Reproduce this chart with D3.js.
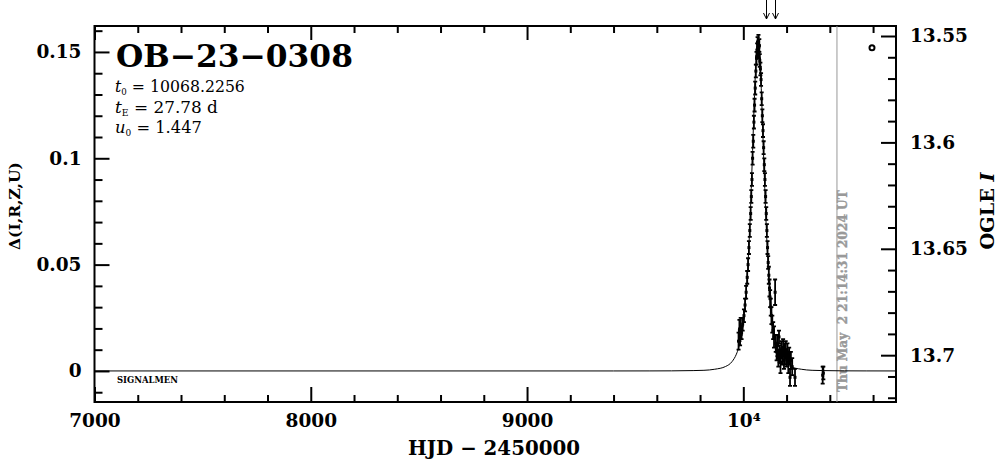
<!DOCTYPE html>
<html><head><meta charset="utf-8">
<script src="https://cdn.jsdelivr.net/npm/d3@7"></script>
<style>body{margin:0;background:#fff}svg{display:block}</style>
</head><body>
<svg id="c" width="999" height="459"></svg>
<script>
// ---------- data ----------
const eventName = "OB−23−0308";
const params = [
  {sym: "t", sub: "0", val: " = 10068.2256"},
  {sym: "t", sub: "E", val: " = 27.78 d"},
  {sym: "u", sub: "0", val: " = 1.447"}
];
const xTicks = [7000, 8000, 9000, 10000];
const xTickLabels = ["7000", "8000", "9000", "10⁴"];
const yTicks = [0, 0.05, 0.1, 0.15];
const yTickLabels = ["0", "0.05", "0.1", "0.15"];
const magTicks = [13.55, 13.6, 13.65, 13.7];
const magTickLabels = ["13.55", "13.6", "13.65", "13.7"];
const xLabel = "HJD − 2450000";
const yLabel = "Δ(I,R,Z,U)";
const rLabelMain = "OGLE ";
const rLabelItalic = "I";
const stamp = "Thu May  2 21:14:31 2024 UT";
const stampT = 10433;
const arrowT = [10105, 10147];
const markT = [10595];
const markD = [0.152];

// model curve
const modelT = [7000, 9400, 9568, 9668, 9768, 9818, 9868, 9918, 9948, 9968, 9978, 9988, 9998, 10008, 10018, 10023, 10028, 10033, 10038, 10043, 10048, 10053, 10058, 10063, 10068,
  10073, 10078, 10083, 10088, 10093, 10098, 10103, 10108, 10113, 10118, 10128, 10138, 10148, 10158, 10168, 10188, 10218, 10268, 10318, 10368, 10468, 10568, 10706];
const modelD = [0, 0, 0.00002, 0.00005, 0.00017, 0.0003, 0.0008, 0.0021, 0.0044, 0.0079, 0.0108, 0.0153, 0.0213, 0.0305, 0.0441, 0.0529, 0.0634, 0.0754, 0.0893, 0.1037, 0.1188, 0.1329, 0.1447, 0.1527, 0.1554,
  0.1527, 0.1447, 0.1329, 0.1188, 0.1037, 0.0893, 0.0754, 0.0634, 0.0529, 0.0441, 0.0305, 0.0213, 0.0153, 0.0108, 0.0079, 0.0044, 0.0021, 0.0008, 0.0003, 0.00017, 0.00005, 0.00002, 0];

// observations
const obsT = [9978, 9982, 9985, 9988, 9992, 9997, 10003, 10008, 10013, 10018, 10022, 10026, 10030, 10034, 10037, 10040, 10043, 10046, 10049, 10052, 10055, 10058, 10061, 10064, 10066, 10068, 10070,
  10072, 10074, 10076, 10079, 10082, 10085, 10088, 10091, 10094, 10097, 10100, 10103, 10106, 10109, 10112, 10115, 10118, 10121, 10124, 10127, 10130, 10134, 10138, 10142, 10147, 10150, 10154, 10158,
  10162, 10165, 10168, 10172, 10176, 10180, 10184, 10188, 10192, 10196, 10200, 10204, 10208, 10212, 10216, 10220, 10226, 10239, 10367, 10370];
const obsD = [0.014, 0.019, 0.016, 0.021, 0.018, 0.022, 0.026, 0.031, 0.037, 0.044, 0.050, 0.058, 0.066, 0.074, 0.082, 0.090, 0.100, 0.108, 0.117, 0.125, 0.133, 0.141, 0.147, 0.151, 0.154, 0.152, 0.155,
  0.150, 0.153, 0.146, 0.142, 0.137, 0.128, 0.120, 0.113, 0.105, 0.097, 0.090, 0.082, 0.074, 0.066, 0.058, 0.051, 0.045, 0.039, 0.034, 0.030, 0.026, 0.022, 0.019, 0.016, 0.037, 0.013, 0.009, 0.012,
  0.006, 0.016, 0.008, 0.004, 0.010, 0.007, 0.011, 0.005, 0.008, 0.010, 0.006, 0.009, 0.004, 0.007, -0.003, 0.005, 0.002, -0.003, -0.002, -0.001];
const obsE = [0.004, 0.005, 0.004, 0.004, 0.003, 0.003, 0.003, 0.003, 0.003, 0.003, 0.003, 0.003, 0.003, 0.003, 0.003, 0.003, 0.003, 0.003, 0.003, 0.003, 0.003, 0.003, 0.003, 0.003, 0.003, 0.003, 0.003,
  0.003, 0.003, 0.003, 0.003, 0.003, 0.003, 0.003, 0.003, 0.003, 0.003, 0.003, 0.003, 0.003, 0.003, 0.003, 0.003, 0.004, 0.004, 0.004, 0.004, 0.004, 0.004, 0.004, 0.005, 0.006, 0.004, 0.004, 0.005,
  0.004, 0.003, 0.004, 0.005, 0.004, 0.004, 0.004, 0.004, 0.005, 0.004, 0.004, 0.004, 0.005, 0.004, 0.004, 0.004, 0.004, 0.004, 0.004, 0.003];

// ---------- layout ----------
const svg = d3.select("#c");
const L = 94.5, R = 896, T = 26, B = 402;
const FONT = "'DejaVu Serif', serif";
const x = d3.scaleLinear().domain([7000, 10706]).range([L, R]);
const y = d3.scaleLinear().domain([-0.0146, 0.1622]).range([B, T]);
const yM = d3.scaleLinear().domain([13.722, 13.5453]).range([B, T]);

svg.append("rect").attr("width", 999).attr("height", 459).attr("fill", "#fff");

function fit(t, w) {
  const cur = t.node().getComputedTextLength();
  const fs = parseFloat(t.style("font-size"));
  t.style("font-size", (fs * w / cur) + "px");
}
function styleAxis(g, fs) {
  g.select(".domain").remove();
  g.selectAll("line").attr("stroke", "#000").attr("stroke-width", 2);
  g.selectAll("text").attr("font-family", FONT).attr("font-weight", "bold").attr("font-size", fs).attr("fill", "#000");
}

// minor ticks
const minorX = d3.range(7000, 10707, 200).filter(v => v % 1000 !== 0);
const minorY = d3.range(-0.01, 0.1621, 0.01).filter(v => Math.abs(v / 0.05 - Math.round(v / 0.05)) > 1e-6);
const minorM = d3.range(13.56, 13.7221, 0.01).filter(v => Math.abs(v / 0.05 - Math.round(v / 0.05)) > 1e-6);

// bottom
const gB = svg.append("g").attr("transform", `translate(0,${B})`)
  .call(d3.axisBottom(x).tickValues(xTicks).tickSizeInner(-15).tickSizeOuter(0).tickPadding(12)
    .tickFormat((d, i) => xTickLabels[i]));
styleAxis(gB, "18.5px");
const gBm = svg.append("g").attr("transform", `translate(0,${B})`)
  .call(d3.axisBottom(x).tickValues(minorX).tickSize(-7).tickFormat(""));
styleAxis(gBm, "1px");
// top
const gT = svg.append("g").attr("transform", `translate(0,${T})`)
  .call(d3.axisTop(x).tickValues(xTicks).tickSize(-14).tickFormat(""));
styleAxis(gT, "1px");
const gTm = svg.append("g").attr("transform", `translate(0,${T})`)
  .call(d3.axisTop(x).tickValues(minorX).tickSize(-7).tickFormat(""));
styleAxis(gTm, "1px");
// left
const gLft = svg.append("g").attr("transform", `translate(${L},0)`)
  .call(d3.axisLeft(y).tickValues(yTicks).tickSizeInner(-15).tickSizeOuter(0).tickPadding(13)
    .tickFormat((d, i) => yTickLabels[i]));
styleAxis(gLft, "18.5px");
const gLm = svg.append("g").attr("transform", `translate(${L},0)`)
  .call(d3.axisLeft(y).tickValues(minorY).tickSize(-8).tickFormat(""));
styleAxis(gLm, "1px");
// right
const gR = svg.append("g").attr("transform", `translate(${R},0)`)
  .call(d3.axisRight(yM).tickValues(magTicks).tickSizeInner(-15).tickSizeOuter(0).tickPadding(14)
    .tickFormat((d, i) => magTickLabels[i]));
styleAxis(gR, "18.5px");
const gRm = svg.append("g").attr("transform", `translate(${R},0)`)
  .call(d3.axisRight(yM).tickValues(minorM).tickSize(-8).tickFormat(""));
styleAxis(gRm, "1px");

// frame
svg.append("rect").attr("x", L).attr("y", T).attr("width", R - L).attr("height", B - T)
  .attr("fill", "none").attr("stroke", "#000").attr("stroke-width", 2);

// time stamp line + text
svg.append("line").attr("x1", x(stampT)).attr("x2", x(stampT)).attr("y1", T).attr("y2", B)
  .attr("stroke", "#999").attr("stroke-width", 1);
const st = svg.append("text").attr("transform", `translate(${x(stampT) + 10},392) rotate(-90)`)
  .attr("font-family", FONT).attr("font-weight", "bold").attr("font-size", "11px").attr("fill", "#999")
  .attr("stroke", "#999").attr("stroke-width", 0.4)
  .style("white-space", "pre").text(stamp);
fit(st, 202);

// model curve
const model = modelT.map((t, i) => [t, modelD[i]]);
svg.append("path").datum(model)
  .attr("d", d3.line().x(d => x(d[0])).y(d => y(d[1])).curve(d3.curveMonotoneX))
  .attr("fill", "none").attr("stroke", "#000").attr("stroke-width", 1);

// observations with error bars
const obs = obsT.map((t, i) => ({t, d: obsD[i], e: obsE[i]}));
const g = svg.append("g").attr("stroke", "#000");
g.selectAll("path.eb").data(obs).join("path").attr("class", "eb")
  .attr("d", o => {
    const cx = x(o.t), y1 = y(o.d - o.e), y2 = y(o.d + o.e);
    return `M${cx},${y1}V${y2}M${cx - 2},${y1}H${cx + 2}M${cx - 2},${y2}H${cx + 2}`;
  })
  .attr("fill", "none").attr("stroke-width", 1.8);
g.selectAll("rect.pt").data(obs).join("rect").attr("class", "pt")
  .attr("x", o => x(o.t) - 1.5).attr("y", o => y(o.d) - 1.5).attr("width", 3).attr("height", 3)
  .attr("fill", "#000").attr("stroke", "none");

// marker circle
svg.selectAll("circle.mk").data(markT).join("circle").attr("class", "mk")
  .attr("cx", d => x(d)).attr("cy", (d, i) => y(markD[i])).attr("r", 2.5)
  .attr("fill", "none").attr("stroke", "#000").attr("stroke-width", 2);

// arrows above frame
svg.selectAll("path.ar").data(arrowT).join("path").attr("class", "ar")
  .attr("d", d => { const cx = Math.round(x(d)) + 0.5; return `M${cx},0V19M${cx - 3},13L${cx},19L${cx + 3},13`; })
  .attr("fill", "none").attr("stroke", "#000").attr("stroke-width", 1);

// title and parameters
const ttl = svg.append("text").attr("x", 116).attr("y", 67).attr("font-family", FONT).attr("font-weight", "bold")
  .attr("font-size", "32px").text(eventName);
fit(ttl, 237);
const pBase = [92, 113, 133];
const pW = [130, 103, 87];
params.forEach((p, i) => {
  const t = svg.append("text").attr("x", 115).attr("y", pBase[i]).attr("font-family", FONT).attr("font-size", "14px");
  t.append("tspan").attr("font-style", "italic").text(p.sym);
  t.append("tspan").attr("font-size", "0.55em").attr("dy", "0.35em").text(p.sub);
  t.append("tspan").attr("dy", "-0.19em").text(p.val);
  fit(t, pW[i]);
});

// SIGNALMEN
const sg = svg.append("text").attr("x", 117).attr("y", 383).attr("font-family", FONT).attr("font-weight", "bold")
  .attr("font-size", "9px").text("SIGNALMEN");
fit(sg, 61);

// axis labels
const xl = svg.append("text").attr("x", 494).attr("y", 455).attr("text-anchor", "middle")
  .attr("font-family", FONT).attr("font-weight", "bold").attr("font-size", "18px").text(xLabel);
fit(xl, 172);
const yl = svg.append("text").attr("transform", "translate(15,206) rotate(-90)").attr("text-anchor", "middle")
  .attr("dy", "0.35em").attr("font-family", FONT).attr("font-weight", "bold").attr("font-size", "18px").text(yLabel);
fit(yl, 88);
const rl = svg.append("text").attr("transform", "translate(987,211) rotate(-90)").attr("text-anchor", "middle")
  .attr("dy", "0.35em").attr("font-family", FONT).attr("font-weight", "bold").attr("font-size", "18px");
rl.append("tspan").text(rLabelMain);
rl.append("tspan").attr("font-style", "italic").text(rLabelItalic);
fit(rl, 77);
</script>
</body></html>
